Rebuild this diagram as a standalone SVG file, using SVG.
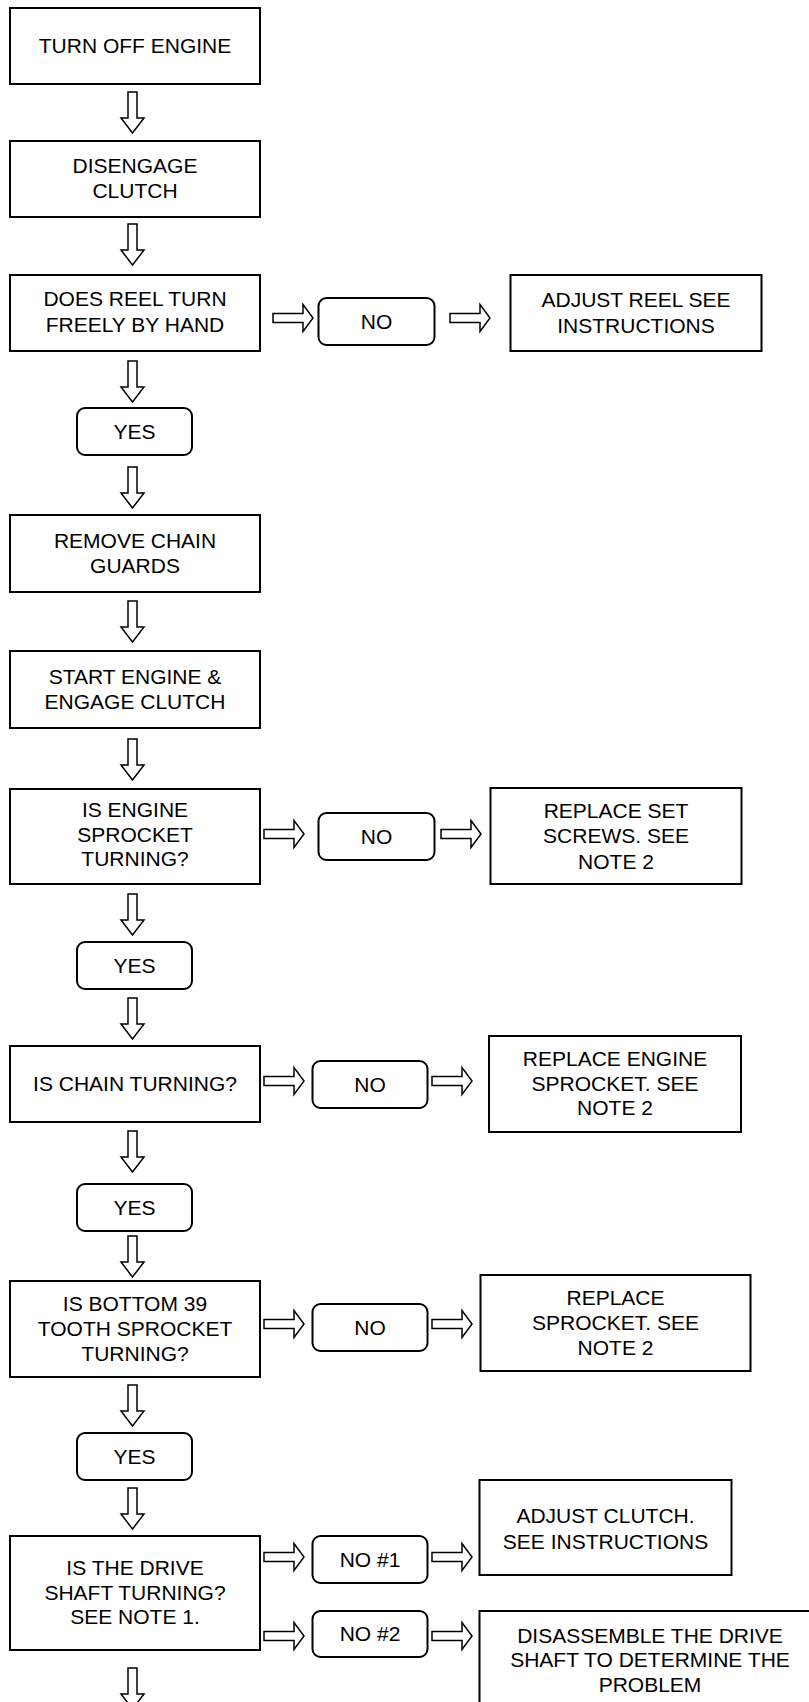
<svg xmlns="http://www.w3.org/2000/svg" xmlns:xlink="http://www.w3.org/1999/xlink" width="809" height="1702" viewBox="0 0 809 1702">
<style>
.box{fill:#fff;stroke:#000;stroke-width:2}
.rbox{fill:#fff;stroke:#000;stroke-width:2}
.arr{fill:#fff;stroke:#000;stroke-width:1.5;stroke-linejoin:miter}
text{font-family:"Liberation Sans",Arial,sans-serif;font-size:21px;fill:#000;text-anchor:middle}
</style>
<defs>
<path id="down" class="arr" d="M-4.5,0 H4.5 V26 H11.5 L0,41 L-11.5,26 H-4.5 Z"/>
<path id="right" class="arr" d="M0,-4.5 H30 V-13.5 L40,0 L30,13.5 V4.5 H0 Z"/>
</defs>
<rect width="809" height="1702" fill="#fff"/>
<g id="connectors">
<use xlink:href="#down" x="132.5" y="92"/>
<use xlink:href="#down" x="132.5" y="224"/>
<use xlink:href="#down" x="132.5" y="361"/>
<use xlink:href="#down" x="132.5" y="467"/>
<use xlink:href="#down" x="132.5" y="601"/>
<use xlink:href="#down" x="132.5" y="739"/>
<use xlink:href="#down" x="132.5" y="894"/>
<use xlink:href="#down" x="132.5" y="998"/>
<use xlink:href="#down" x="132.5" y="1131"/>
<use xlink:href="#down" x="132.5" y="1236"/>
<use xlink:href="#down" x="132.5" y="1385"/>
<use xlink:href="#down" x="132.5" y="1488"/>
<use xlink:href="#down" x="132.5" y="1668"/>
<use xlink:href="#right" x="273" y="318"/>
<use xlink:href="#right" x="450" y="318"/>
<use xlink:href="#right" x="264" y="834"/>
<use xlink:href="#right" x="441" y="834"/>
<use xlink:href="#right" x="264" y="1081"/>
<use xlink:href="#right" x="432" y="1081"/>
<use xlink:href="#right" x="264" y="1324"/>
<use xlink:href="#right" x="432" y="1324"/>
<use xlink:href="#right" x="264" y="1557"/>
<use xlink:href="#right" x="432" y="1557"/>
<use xlink:href="#right" x="264" y="1636"/>
<use xlink:href="#right" x="432" y="1636"/>
</g>
<g id="turn-off-engine"><rect class="box" x="10" y="8" width="250" height="76"/><text x="135" y="53">TURN OFF ENGINE</text></g>
<g id="disengage-clutch"><rect class="box" x="10" y="141" width="250" height="76"/><text x="135" y="173">DISENGAGE</text><text x="135" y="198">CLUTCH</text></g>
<g id="reel-turn"><rect class="box" x="10" y="275" width="250" height="76"/><text x="135" y="306">DOES REEL TURN</text><text x="135" y="332">FREELY BY HAND</text></g>
<g id="no-1"><rect class="rbox" x="318.5" y="298" width="116" height="47" rx="8"/><text x="376.5" y="329">NO</text></g>
<g id="adjust-reel"><rect class="box" x="510.5" y="275" width="251" height="76"/><text x="636" y="306.5">ADJUST REEL SEE</text><text x="636" y="332.5">INSTRUCTIONS</text></g>
<g id="yes-1"><rect class="rbox" x="77" y="408" width="115" height="47" rx="8"/><text x="134.5" y="439">YES</text></g>
<g id="remove-guards"><rect class="box" x="10" y="515" width="250" height="77"/><text x="135" y="548">REMOVE CHAIN</text><text x="135" y="573">GUARDS</text></g>
<g id="start-engine"><rect class="box" x="10" y="651" width="250" height="77"/><text x="135" y="684">START ENGINE &amp;</text><text x="135" y="709">ENGAGE CLUTCH</text></g>
<g id="engine-sprocket"><rect class="box" x="10" y="789" width="250" height="95"/><text x="135" y="817">IS ENGINE</text><text x="135" y="841.5">SPROCKET</text><text x="135" y="866">TURNING?</text></g>
<g id="no-2"><rect class="rbox" x="318.5" y="813" width="116" height="47" rx="8"/><text x="376.5" y="844">NO</text></g>
<g id="set-screws"><rect class="box" x="490.5" y="788" width="251" height="96"/><text x="616" y="818">REPLACE SET</text><text x="616" y="843">SCREWS. SEE</text><text x="616" y="868.5">NOTE 2</text></g>
<g id="yes-2"><rect class="rbox" x="77" y="942" width="115" height="47" rx="8"/><text x="134.5" y="973">YES</text></g>
<g id="chain-turning"><rect class="box" x="10" y="1046" width="250" height="76"/><text x="135" y="1091">IS CHAIN TURNING?</text></g>
<g id="no-3"><rect class="rbox" x="312.5" y="1061" width="115" height="47" rx="8"/><text x="370" y="1092">NO</text></g>
<g id="replace-engine-sprocket"><rect class="box" x="489" y="1036" width="252" height="96"/><text x="615" y="1066">REPLACE ENGINE</text><text x="615" y="1091">SPROCKET. SEE</text><text x="615" y="1115">NOTE 2</text></g>
<g id="yes-3"><rect class="rbox" x="77" y="1184" width="115" height="47" rx="8"/><text x="134.5" y="1215">YES</text></g>
<g id="bottom-sprocket"><rect class="box" x="10" y="1281" width="250" height="96"/><text x="135" y="1311">IS BOTTOM 39</text><text x="135" y="1336">TOOTH SPROCKET</text><text x="135" y="1361">TURNING?</text></g>
<g id="no-4"><rect class="rbox" x="312.5" y="1304" width="115" height="47" rx="8"/><text x="370" y="1335">NO</text></g>
<g id="replace-sprocket"><rect class="box" x="480.5" y="1275" width="270" height="96"/><text x="615.5" y="1305">REPLACE</text><text x="615.5" y="1330">SPROCKET. SEE</text><text x="615.5" y="1355">NOTE 2</text></g>
<g id="yes-4"><rect class="rbox" x="77" y="1433" width="115" height="47" rx="8"/><text x="134.5" y="1464">YES</text></g>
<g id="drive-shaft"><rect class="box" x="10" y="1536" width="250" height="114"/><text x="135" y="1575">IS THE DRIVE</text><text x="135" y="1599.5">SHAFT TURNING?</text><text x="135" y="1624">SEE NOTE 1.</text></g>
<g id="no-5"><rect class="rbox" x="312.5" y="1536" width="115" height="47" rx="8"/><text x="370" y="1567">NO #1</text></g>
<g id="adjust-clutch"><rect class="box" x="479.5" y="1480" width="252" height="95"/><text x="605.5" y="1523">ADJUST CLUTCH.</text><text x="605.5" y="1549">SEE INSTRUCTIONS</text></g>
<g id="no-6"><rect class="rbox" x="312.5" y="1611" width="115" height="46" rx="8"/><text x="370" y="1641">NO #2</text></g>
<g id="disassemble"><rect class="box" x="479.5" y="1611" width="342" height="120"/><text x="650" y="1643">DISASSEMBLE THE DRIVE</text><text x="650" y="1666.5">SHAFT TO DETERMINE THE</text><text x="650" y="1692">PROBLEM</text></g>
</svg>
